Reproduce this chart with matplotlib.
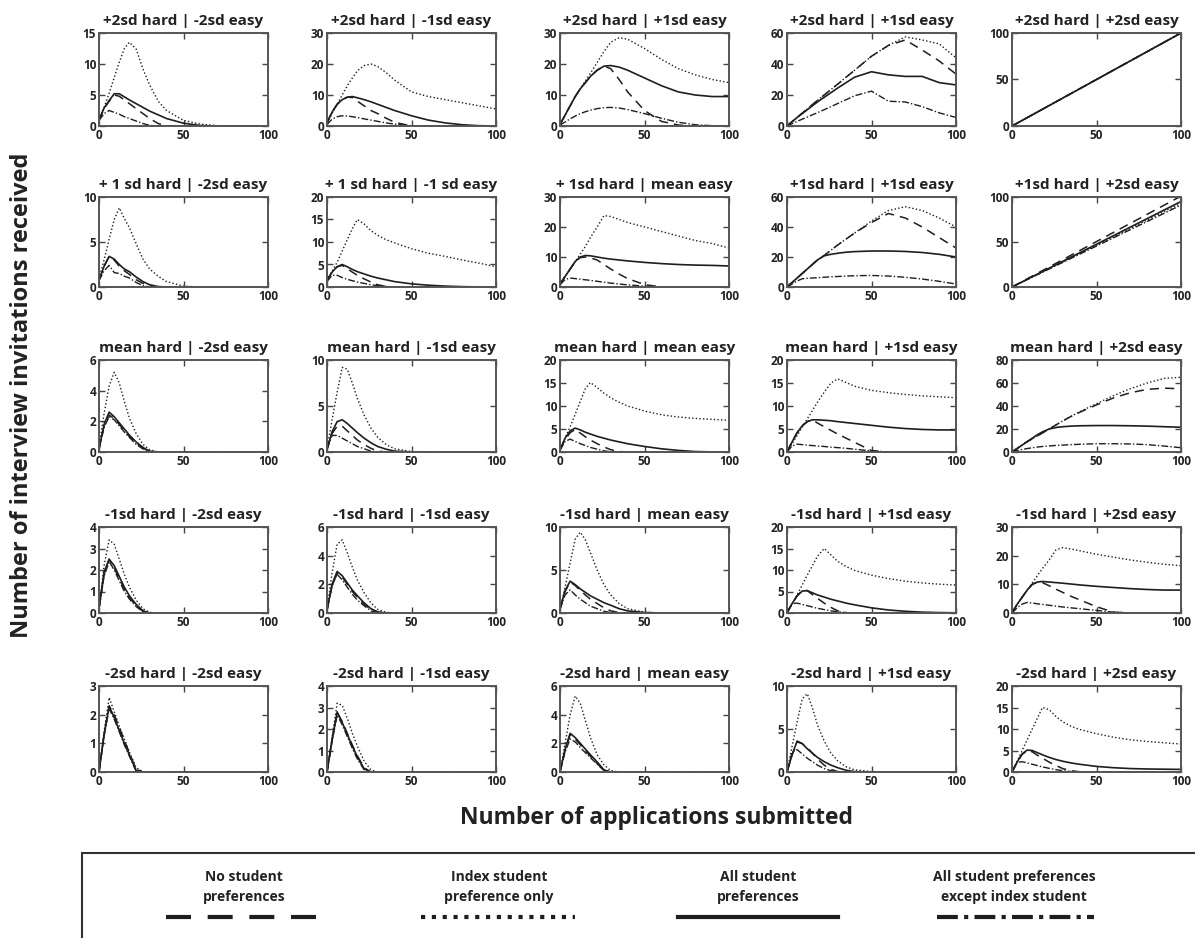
import matplotlib
matplotlib.use("Agg")
import matplotlib.pyplot as plt
from matplotlib.patches import Rectangle
from matplotlib.lines import Line2D

plt.rcParams['font.family'] = ['Open Sans', 'DejaVu Sans']

#x positions (number of applications submitted)
X = [0, 3, 6, 9, 12, 15, 18, 22, 26, 30, 35, 40, 50, 60, 70, 80, 90, 100]

TITLES = [
    "+2sd hard | -2sd easy", "+2sd hard | -1sd easy", "+2sd hard | +1sd easy", "+2sd hard | +1sd easy", "+2sd hard | +2sd easy",
    "+ 1 sd hard | -2sd easy", "+ 1 sd hard | -1 sd easy", "+ 1sd hard | mean easy", "+1sd hard | +1sd easy", "+1sd hard | +2sd easy",
    "mean hard | -2sd easy", "mean hard | -1sd easy", "mean hard | mean easy", "mean hard | +1sd easy", "mean hard | +2sd easy",
    "-1sd hard | -2sd easy", "-1sd hard | -1sd easy", "-1sd hard | mean easy", "-1sd hard | +1sd easy", "-1sd hard | +2sd easy",
    "-2sd hard | -2sd easy", "-2sd hard | -1sd easy", "-2sd hard | mean easy", "-2sd hard | +1sd easy", "-2sd hard | +2sd easy",
]
YMAX = [15, 30, 30, 60, 100, 10, 20, 30, 60, 100, 6, 10, 20, 20, 80, 4, 6, 10, 20, 30, 3, 4, 6, 10, 20]
YSTEP = [5, 10, 10, 20, 50, 5, 5, 10, 20, 50, 2, 5, 5, 5, 20, 1, 2, 5, 5, 10, 1, 1, 2, 5, 5]

#no student preferences (dashed)
NO_PREF = [
    [0.9, 2.8, 4.0, 5.0, 4.8, 4.2, 3.6, 2.8, 2.0, 1.2, 0.4, 0, 0, 0, 0, 0, 0, 0],
    [1.0, 4.5, 7.0, 8.5, 9.3, 9.2, 8.0, 6.5, 5.0, 4.0, 2.5, 1.2, 0, 0, 0, 0, 0, 0],
    [0.5, 3.5, 6.5, 9.5, 12.0, 14.0, 16.0, 18.0, 19.3, 18.5, 15.0, 11.0, 5.0, 1.5, 0.3, 0, 0, 0],
    [0, 2.8, 5.5, 8.3, 11.0, 13.8, 16.5, 20.0, 23.5, 27.0, 31.5, 36.0, 45.0, 52.0, 55.5, 49.0, 42.0, 33.5],
    [0, 3, 6, 9, 12, 15, 18, 22, 26, 30, 35, 40, 50, 60, 70, 80, 90, 100],
    [0.8, 2.3, 3.4, 3.0, 2.3, 1.8, 1.4, 0.8, 0.4, 0.1, 0, 0, 0, 0, 0, 0, 0, 0],
    [1.5, 3.3, 4.5, 4.8, 4.1, 3.3, 2.6, 1.8, 1.1, 0.5, 0.1, 0, 0, 0, 0, 0, 0, 0],
    [1.0, 3.5, 6.0, 8.5, 9.8, 10.0, 9.7, 9.0, 7.5, 6.0, 4.3, 2.8, 0.8, 0, 0, 0, 0, 0],
    [0, 3, 6, 9, 12, 15, 18, 21, 24.5, 28, 32, 36, 43, 49, 46, 40, 33, 26],
    [0, 3.0, 6.1, 9.1, 12.1, 15.2, 18.2, 22.2, 26.3, 30.3, 35.4, 40.4, 50.5, 60.6, 70.7, 80.8, 90.9, 101],
    [0.2, 1.7, 2.4, 2.2, 1.8, 1.4, 1.0, 0.6, 0.25, 0.03, 0, 0, 0, 0, 0, 0, 0, 0],
    [0.3, 2.0, 2.8, 2.8, 2.3, 1.8, 1.3, 0.8, 0.4, 0.1, 0, 0, 0, 0, 0, 0, 0, 0],
    [0.5, 2.7, 4.2, 4.9, 4.1, 3.3, 2.6, 1.8, 1.1, 0.5, 0.1, 0, 0, 0, 0, 0, 0, 0],
    [0, 2.2, 4.2, 5.7, 6.6, 7.0, 6.3, 5.5, 4.7, 3.9, 3.0, 2.1, 0.3, 0, 0, 0, 0, 0],
    [0, 3, 6, 9, 11.5, 14, 16.5, 20, 23.5, 27, 31, 34.5, 41, 47, 51.5, 54.5, 55.5, 55],
    [0.2, 1.8, 2.5, 2.1, 1.6, 1.1, 0.7, 0.35, 0.08, 0, 0, 0, 0, 0, 0, 0, 0, 0],
    [0.2, 1.9, 2.8, 2.5, 2.0, 1.5, 1.1, 0.6, 0.25, 0.05, 0, 0, 0, 0, 0, 0, 0, 0],
    [0.5, 2.5, 3.6, 3.2, 2.6, 2.1, 1.6, 1.1, 0.6, 0.25, 0.05, 0, 0, 0, 0, 0, 0, 0],
    [0, 2.2, 4.0, 5.2, 5.2, 4.3, 3.4, 2.3, 1.3, 0.5, 0.05, 0, 0, 0, 0, 0, 0, 0],
    [0, 3.0, 5.5, 8.0, 10.0, 10.8, 10.6, 9.5, 8.3, 7.2, 5.8, 4.6, 2.2, 0.3, 0, 0, 0, 0],
    [0, 1.3, 2.3, 2.0, 1.55, 1.1, 0.65, 0.1, 0, 0, 0, 0, 0, 0, 0, 0, 0, 0],
    [0, 1.5, 2.75, 2.35, 1.8, 1.25, 0.75, 0.2, 0, 0, 0, 0, 0, 0, 0, 0, 0, 0],
    [0, 1.5, 2.6, 2.3, 1.9, 1.5, 1.1, 0.6, 0.1, 0, 0, 0, 0, 0, 0, 0, 0, 0],
    [0, 2.0, 3.5, 3.3, 2.8, 2.2, 1.5, 0.8, 0.3, 0.05, 0, 0, 0, 0, 0, 0, 0, 0],
    [0, 2.2, 4.1, 5.0, 4.7, 3.9, 3.2, 2.3, 1.5, 0.8, 0.3, 0.05, 0, 0, 0, 0, 0, 0],
]

#index student preference only (dotted)
INDEX_ONLY = [
    [0.8, 3.0, 5.3, 7.8, 10.3, 12.5, 13.5, 12.4, 9.2, 6.6, 4.0, 2.5, 0.9, 0.3, 0.05, 0, 0, 0],
    [1.0, 4.0, 7.0, 10.0, 13.0, 15.5, 17.8, 19.5, 20.0, 19.2, 17.2, 14.8, 11.0, 9.5, 8.5, 7.5, 6.5, 5.5],
    [0.5, 3.5, 6.5, 9.5, 12.0, 14.5, 17.0, 20.5, 24.0, 27.0, 28.5, 28.0, 25.0, 21.5, 18.5, 16.5, 15.0, 14.0],
    [0, 2.8, 5.5, 8.3, 11.0, 13.8, 16.5, 20.0, 23.5, 27.0, 31.5, 36.0, 45.0, 52.0, 57.5, 55.5, 53.0, 44.0],
    [0, 3, 6, 9, 12, 15, 18, 22, 26, 30, 35, 40, 50, 60, 70, 80, 90, 100],
    [0.9, 3.0, 5.3, 7.5, 8.8, 7.6, 6.6, 4.8, 3.1, 2.0, 1.2, 0.6, 0.1, 0, 0, 0, 0, 0],
    [1.5, 3.5, 5.5, 8.0, 10.5, 13.0, 15.0, 14.0, 12.5, 11.5, 10.5, 9.8, 8.5, 7.5, 6.8, 6.0, 5.3, 4.5],
    [1.0, 3.5, 6.0, 8.5, 11.0, 13.5, 16.5, 20.0, 23.8, 23.5, 22.5, 21.5, 20.0, 18.5, 17.0, 15.5, 14.5, 13.0],
    [0, 3, 6, 9, 12, 15, 18, 21, 24.5, 28, 32, 36, 44, 51, 53.5, 51, 46, 40],
    [0, 2.8, 5.6, 8.4, 11.2, 14.0, 16.7, 20.5, 24.2, 27.9, 32.6, 37.2, 46.5, 55.8, 65.1, 74.4, 83.7, 93],
    [0.3, 2.5, 4.3, 5.2, 4.5, 3.3, 2.2, 1.2, 0.5, 0.15, 0, 0, 0, 0, 0, 0, 0, 0],
    [0.3, 3.5, 6.5, 9.2, 9.0, 7.5, 5.8, 4.0, 2.6, 1.6, 0.8, 0.35, 0.05, 0, 0, 0, 0, 0],
    [0.5, 3.0, 5.5, 8.2, 11.0, 13.8, 15.1, 14.0, 12.8, 11.8, 10.8, 10.0, 8.9, 8.1, 7.6, 7.3, 7.1, 6.9],
    [0, 1.8, 3.6, 5.4, 7.2, 9.0, 10.8, 13.0, 15.0, 15.9, 15.1, 14.3, 13.4, 12.9, 12.5, 12.2, 12.0, 11.8],
    [0, 3, 6, 9, 11.5, 14, 16.5, 20, 23.5, 27, 31, 35, 42, 49, 55, 60, 64, 65],
    [0.2, 2.2, 3.4, 3.2, 2.5, 1.8, 1.2, 0.6, 0.2, 0.03, 0, 0, 0, 0, 0, 0, 0, 0],
    [0.2, 2.8, 4.8, 5.1, 4.2, 3.2, 2.3, 1.4, 0.7, 0.25, 0.05, 0, 0, 0, 0, 0, 0, 0],
    [0.3, 3.0, 5.8, 8.6, 9.4, 8.5, 7.0, 5.0, 3.3, 2.1, 1.1, 0.5, 0.1, 0, 0, 0, 0, 0],
    [0, 2.0, 4.2, 6.5, 8.8, 11.0, 13.2, 15.0, 13.5, 12.0, 10.8, 9.9, 8.8, 8.0, 7.4, 7.0, 6.7, 6.5],
    [0, 3.0, 5.5, 8.0, 10.5, 13.0, 15.5, 18.5, 22.0, 22.8, 22.3, 21.7, 20.5, 19.5, 18.5, 17.7, 17.0, 16.5],
    [0, 1.4, 2.6, 2.1, 1.6, 1.15, 0.7, 0.15, 0, 0, 0, 0, 0, 0, 0, 0, 0, 0],
    [0, 1.6, 3.2, 3.1, 2.5, 1.8, 1.2, 0.5, 0.1, 0, 0, 0, 0, 0, 0, 0, 0, 0],
    [0, 2.0, 4.0, 5.3, 4.8, 3.6, 2.4, 1.2, 0.5, 0.1, 0, 0, 0, 0, 0, 0, 0, 0],
    [0, 3.0, 5.8, 8.5, 9.1, 7.5, 5.5, 3.6, 2.2, 1.3, 0.6, 0.25, 0.05, 0, 0, 0, 0, 0],
    [0, 2.5, 5.0, 7.5, 10.0, 12.5, 15.0, 14.5, 12.9, 11.7, 10.6, 9.9, 8.9, 8.1, 7.5, 7.1, 6.8, 6.5],
]

#all student preferences (solid)
ALL_PREF = [
    [1.0, 2.9, 4.1, 5.2, 5.2, 4.7, 4.2, 3.6, 3.0, 2.4, 1.8, 1.2, 0.45, 0.08, 0, 0, 0, 0],
    [1.0, 4.5, 7.0, 8.5, 9.3, 9.5, 9.1, 8.5, 7.8, 7.0, 6.0, 5.0, 3.3, 1.9, 1.0, 0.4, 0.1, 0],
    [0.5, 3.5, 6.5, 9.5, 12.0, 14.0, 16.0, 18.0, 19.3, 19.5, 19.0, 18.0, 15.5, 13.0, 11.0, 10.0, 9.5, 9.5],
    [0, 2.8, 5.5, 8.0, 10.5, 13.0, 15.5, 18.5, 21.5, 24.5, 28.0, 31.5, 35.0, 33.0, 32.0, 32.0, 28.0, 26.5],
    [0, 3, 6, 9, 12, 15, 18, 22, 26, 30, 35, 40, 50, 60, 70, 80, 90, 100],
    [0.8, 2.3, 3.4, 3.1, 2.5, 2.0, 1.7, 1.1, 0.6, 0.25, 0.05, 0, 0, 0, 0, 0, 0, 0],
    [1.5, 3.3, 4.5, 5.0, 4.5, 3.9, 3.4, 2.9, 2.4, 2.0, 1.6, 1.2, 0.7, 0.4, 0.2, 0.08, 0.02, 0],
    [1.0, 3.5, 6.0, 8.5, 10.0, 10.5, 10.4, 10.0, 9.6, 9.3, 9.0, 8.7, 8.2, 7.8, 7.5, 7.3, 7.2, 7.0],
    [0, 3, 6, 9, 12, 15, 18, 20.8, 21.8, 22.5, 23.2, 23.6, 24.0, 24.0, 23.7, 23.0, 21.8, 20.0],
    [0, 2.9, 5.7, 8.6, 11.4, 14.3, 17.1, 20.9, 24.7, 28.5, 33.3, 38.0, 47.5, 57.0, 66.5, 76.0, 85.5, 95],
    [0.2, 1.8, 2.6, 2.3, 1.9, 1.5, 1.1, 0.65, 0.3, 0.05, 0, 0, 0, 0, 0, 0, 0, 0],
    [0.3, 2.2, 3.3, 3.5, 3.1, 2.6, 2.1, 1.5, 1.0, 0.6, 0.3, 0.1, 0, 0, 0, 0, 0, 0],
    [0.5, 3.0, 4.6, 5.2, 4.8, 4.3, 3.9, 3.4, 3.0, 2.6, 2.2, 1.8, 1.2, 0.7, 0.35, 0.1, 0.02, 0],
    [0, 2.2, 4.2, 5.7, 6.6, 7.0, 7.0, 6.9, 6.8, 6.6, 6.4, 6.2, 5.8, 5.4, 5.1, 4.9, 4.8, 4.8],
    [0, 3, 6, 9, 12, 15, 17.5, 20, 21.3, 22, 22.5, 22.8, 23, 23, 22.8, 22.5, 22, 21.5],
    [0.2, 1.9, 2.5, 2.2, 1.7, 1.2, 0.8, 0.4, 0.1, 0, 0, 0, 0, 0, 0, 0, 0, 0],
    [0.2, 2.0, 2.9, 2.6, 2.1, 1.6, 1.2, 0.7, 0.3, 0.08, 0, 0, 0, 0, 0, 0, 0, 0],
    [0.5, 2.6, 3.7, 3.3, 2.8, 2.4, 2.0, 1.6, 1.2, 0.9, 0.5, 0.25, 0.05, 0, 0, 0, 0, 0],
    [0, 2.2, 4.0, 5.1, 5.2, 4.7, 4.2, 3.7, 3.2, 2.8, 2.3, 1.9, 1.2, 0.7, 0.4, 0.2, 0.1, 0.05],
    [0, 3.0, 5.5, 8.0, 10.0, 10.8, 11.0, 10.8, 10.6, 10.4, 10.1, 9.8, 9.3, 8.9, 8.5, 8.2, 8.0, 8.0],
    [0, 1.3, 2.3, 1.9, 1.45, 1.0, 0.6, 0.05, 0, 0, 0, 0, 0, 0, 0, 0, 0, 0],
    [0, 1.5, 2.8, 2.3, 1.75, 1.2, 0.7, 0.15, 0, 0, 0, 0, 0, 0, 0, 0, 0, 0],
    [0, 1.6, 2.7, 2.4, 2.0, 1.6, 1.2, 0.7, 0.15, 0, 0, 0, 0, 0, 0, 0, 0, 0],
    [0, 2.0, 3.6, 3.3, 2.7, 2.2, 1.7, 1.2, 0.8, 0.5, 0.2, 0.05, 0, 0, 0, 0, 0, 0],
    [0, 2.3, 4.2, 5.1, 5.0, 4.5, 4.0, 3.4, 2.9, 2.5, 2.1, 1.8, 1.3, 1.0, 0.8, 0.7, 0.65, 0.6],
]

#all student preferences except index student (dash-dot)
ALL_EXCEPT = [
    [0.9, 2.0, 2.5, 2.2, 1.9, 1.5, 1.2, 0.8, 0.4, 0.1, 0, 0, 0, 0, 0, 0, 0, 0],
    [0.5, 2.2, 3.0, 3.3, 3.2, 3.0, 2.7, 2.3, 1.9, 1.5, 1.0, 0.6, 0, 0, 0, 0, 0, 0],
    [0.3, 1.3, 2.3, 3.2, 4.0, 4.6, 5.1, 5.6, 5.9, 6.0, 5.8, 5.3, 4.0, 2.5, 1.2, 0.4, 0.1, 0],
    [0, 1.5, 3.0, 4.4, 5.8, 7.2, 8.6, 10.5, 12.5, 14.5, 17.0, 19.5, 22.5, 16.0, 15.5, 12.5, 8.5, 5.5],
    [0, 3, 6, 9, 12, 15, 18, 22, 26, 30, 35, 40, 50, 60, 70, 80, 90, 100],
    [0.7, 1.8, 2.4, 1.6, 1.5, 1.2, 1.0, 0.5, 0.15, 0, 0, 0, 0, 0, 0, 0, 0, 0],
    [1.2, 2.6, 2.6, 2.1, 1.7, 1.4, 1.1, 0.8, 0.5, 0.3, 0.1, 0, 0, 0, 0, 0, 0, 0],
    [0.8, 2.5, 3.0, 2.8, 2.6, 2.4, 2.2, 1.9, 1.6, 1.3, 1.0, 0.7, 0.3, 0.05, 0, 0, 0, 0],
    [0, 2.0, 4.0, 5.5, 5.8, 6.0, 6.2, 6.5, 6.8, 7.0, 7.3, 7.5, 7.7, 7.3, 6.5, 5.3, 3.8, 2.0],
    [0, 2.7, 5.5, 8.2, 10.9, 13.7, 16.4, 20.0, 23.7, 27.3, 31.9, 36.4, 45.5, 54.6, 63.7, 72.8, 81.9, 91],
    [0.2, 1.6, 2.3, 2.1, 1.7, 1.3, 0.95, 0.5, 0.2, 0, 0, 0, 0, 0, 0, 0, 0, 0],
    [0.3, 1.8, 1.8, 1.5, 1.2, 0.9, 0.6, 0.35, 0.1, 0, 0, 0, 0, 0, 0, 0, 0, 0],
    [0.4, 2.3, 2.8, 2.3, 1.8, 1.4, 1.0, 0.6, 0.25, 0.05, 0, 0, 0, 0, 0, 0, 0, 0],
    [0, 1.3, 1.7, 1.6, 1.5, 1.4, 1.3, 1.2, 1.05, 0.95, 0.8, 0.6, 0.25, 0, 0, 0, 0, 0],
    [0, 1.2, 2.2, 3.0, 3.7, 4.3, 4.8, 5.3, 5.7, 6.0, 6.4, 6.7, 7.2, 7.2, 7.0, 6.4, 5.2, 3.7],
    [0.2, 1.7, 2.4, 2.0, 1.5, 1.0, 0.65, 0.3, 0.05, 0, 0, 0, 0, 0, 0, 0, 0, 0],
    [0.2, 1.9, 2.7, 2.3, 1.8, 1.3, 0.9, 0.5, 0.15, 0, 0, 0, 0, 0, 0, 0, 0, 0],
    [0.4, 2.1, 2.7, 2.1, 1.6, 1.2, 0.8, 0.5, 0.2, 0.05, 0, 0, 0, 0, 0, 0, 0, 0],
    [0, 2.2, 2.3, 2.0, 1.7, 1.4, 1.1, 0.8, 0.5, 0.3, 0.1, 0, 0, 0, 0, 0, 0, 0],
    [0, 1.8, 3.1, 3.7, 3.5, 3.2, 3.0, 2.7, 2.4, 2.1, 1.8, 1.5, 0.9, 0.3, 0, 0, 0, 0],
    [0, 1.25, 2.2, 1.85, 1.4, 0.95, 0.55, 0.02, 0, 0, 0, 0, 0, 0, 0, 0, 0, 0],
    [0, 1.4, 2.65, 2.2, 1.65, 1.1, 0.6, 0.1, 0, 0, 0, 0, 0, 0, 0, 0, 0, 0],
    [0, 1.4, 2.3, 2.1, 1.7, 1.35, 1.0, 0.55, 0.1, 0, 0, 0, 0, 0, 0, 0, 0, 0],
    [0, 2.3, 2.6, 2.1, 1.6, 1.2, 0.8, 0.4, 0.15, 0, 0, 0, 0, 0, 0, 0, 0, 0],
    [0, 2.2, 2.4, 2.1, 1.8, 1.5, 1.2, 0.85, 0.55, 0.3, 0.1, 0, 0, 0, 0, 0, 0, 0],
]

LEGEND_LABELS = ["No student\npreferences", "Index student\npreference only",
                 "All student\npreferences", "All student preferences\nexcept index student"]

INK = '#1e1e1e'
STYLES = [
    dict(linestyle=(0, (6, 4)), linewidth=1.1),
    dict(linestyle=(0, (1, 1.6)), linewidth=1.0),
    dict(linestyle='-', linewidth=1.2),
    dict(linestyle=(0, (5, 1.5, 1, 1.5)), linewidth=1.0),
]

W, H = 1195, 938
fig = plt.figure(figsize=(W / 100, H / 100), dpi=100)

#pixel layout of the grid
col_left = [99, 327, 560, 787, 1012]
col_width = 169
row_top = [33, 197, 360, 527, 686]
row_bottom = [126, 287, 452, 613, 772]

for i in range(25):
    r, c = divmod(i, 5)
    ax = fig.add_axes([col_left[c] / W, 1 - row_bottom[r] / H,
                       col_width / W, (row_bottom[r] - row_top[r]) / H])
    for series, st in zip([NO_PREF, INDEX_ONLY, ALL_PREF, ALL_EXCEPT], STYLES):
        ax.plot(X, series[i], color=INK, **st)
    ax.set_xlim(0, 100)
    ax.set_ylim(0, YMAX[i])
    ax.set_xticks([0, 50, 100])
    ax.set_yticks(range(0, YMAX[i] + 1, YSTEP[i]))
    ax.tick_params(direction='in', length=4, width=1, top=True, right=True,
                   labelsize=8.5, pad=2, colors='#444444', labelcolor='#222222')
    for lab in ax.get_xticklabels() + ax.get_yticklabels():
        lab.set_fontweight('bold')
    for sp in ax.spines.values():
        sp.set_color('#555555')
        sp.set_linewidth(1.4)
    ax.set_title(TITLES[i], fontsize=11, fontweight='bold', pad=6, color='#222222')

#axis labels
fig.text(22 / W, 1 - 395 / H, 'Number of interview invitations received', rotation=90,
         ha='center', va='center', fontsize=17, fontweight='bold', color='#222222')
fig.text(657 / W, 1 - 818 / H, 'Number of applications submitted',
         ha='center', va='center', fontsize=16.5, fontweight='bold', color='#222222')

#legend box
fig.patches.append(Rectangle((82 / W, -0.05), 1.0, 0.05 + (H - 853) / H, transform=fig.transFigure,
                             fill=False, edgecolor='#333333', linewidth=1.5))
leg_centers = [244, 499, 758, 1014]
leg_spans = [(166, 324), (421, 575), (678, 838), (937, 1094)]
for lab, cx, (x0, x1), st in zip(LEGEND_LABELS, leg_centers, leg_spans, STYLES):
    fig.text(cx / W, 1 - 887 / H, lab, ha='center', va='center', fontsize=10,
             linespacing=1.6, color='#222222', fontweight='bold')
    fig.lines.append(Line2D([x0 / W, x1 / W], [1 - 917 / H, 1 - 917 / H], transform=fig.transFigure,
                            color=INK, linestyle=st['linestyle'], linewidth=3))

fig.savefig('out.png', dpi=100)
